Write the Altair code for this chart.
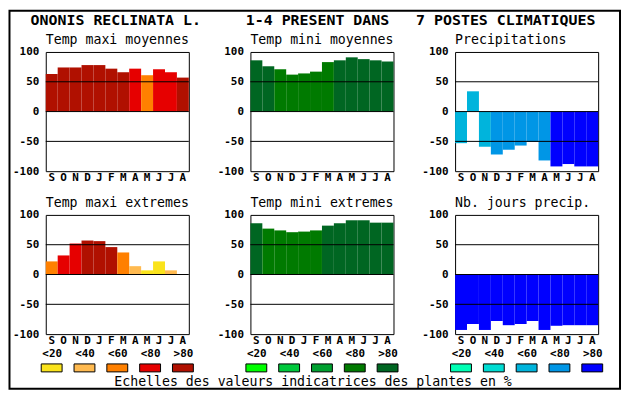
import altair as alt
import pandas as pd

MONO = "DejaVu Sans Mono"

MONTHS = ["S", "O", "N", "D", "J", "F", "M", "A", "M", "J", "J", "A"]
CLASSES = ["<20", "<40", "<60", "<80", ">80"]
Y_TICKS = [-100, -50, 0, 50, 100]
GRID_LINES = [-50, 0, 50]

TITLE_PARTS = ["ONONIS RECLINATA L.", "1-4 PRESENT DANS", "7 POSTES CLIMATIQUES"]
FOOTER = "Echelles des valeurs indicatrices des plantes en %"

REDS = ["#FAE31C", "#FFBA50", "#FF8000", "#E60000", "#B01000"]
GREENS = ["#00FF00", "#00C83C", "#00A030", "#007A00", "#006622"]
BLUES = ["#00FFB4", "#00DCD2", "#00B4DC", "#0096E6", "#0000FF"]

TMAX_MOY_TITLE = "Temp maxi moyennes"
TMAX_MOY = [63, 74, 74, 78, 78, 72, 66, 72, 61, 71, 66, 57]
TMAX_MOY_CLS = [">80", ">80", ">80", ">80", ">80", ">80", ">80", "<80", "<60", "<80", "<80", ">80"]

TMIN_MOY_TITLE = "Temp mini moyennes"
TMIN_MOY = [86, 76, 71, 62, 64, 67, 83, 86, 91, 88, 86, 84]
TMIN_MOY_CLS = [">80", ">80", "<80", "<80", "<80", "<80", "<80", ">80", ">80", ">80", ">80", ">80"]

PREC_TITLE = "Precipitations"
PREC = [-53, 34, -59, -72, -64, -57, -51, -82, -92, -88, -92, -92]
PREC_CLS = ["<60", "<60", "<60", "<80", "<80", "<80", "<80", "<80", ">80", ">80", ">80", ">80"]

TMAX_EXT_TITLE = "Temp maxi extremes"
TMAX_EXT = [22, 32, 52, 57, 56, 46, 37, 14, 7, 22, 7, 0]
TMAX_EXT_CLS = ["<60", "<80", "<80", ">80", ">80", ">80", "<60", "<40", "<20", "<20", "<40", "<20"]

TMIN_EXT_TITLE = "Temp mini extremes"
TMIN_EXT = [86, 77, 74, 71, 72, 74, 82, 86, 91, 91, 87, 87]
TMIN_EXT_CLS = [">80", "<80", "<80", "<80", "<80", "<80", ">80", ">80", ">80", ">80", ">80", ">80"]

NBJ_TITLE = "Nb. jours precip."
NBJ = [-93, -83, -93, -78, -85, -83, -78, -93, -86, -85, -85, -85]
NBJ_CLS = [">80"] * 12

NBSP = "\u00a0"
MAIN_TITLE = TITLE_PARTS[0] + NBSP * 5 + TITLE_PARTS[1] + NBSP * 3 + TITLE_PARTS[2]

LABEL_EXPR = "[" + ",".join("'" + m + "'" for m in MONTHS) + "][datum.value]"

W, H = 144, 120


def panel(title, values, classes, palette):
    df = pd.DataFrame({"i": list(range(len(values))), "v": values, "c": classes})
    yscale = alt.Scale(domain=[-100, 100], nice=False)
    yaxis = alt.Axis(title=None, values=Y_TICKS, ticks=False, domain=False, grid=False,
                     labelExpr="datum.value + ''", labelFont=MONO, labelFontSize=11,
                     labelFontWeight="bold", labelColor="black", labelPadding=7)
    bars = alt.Chart(df).mark_bar().encode(
        x=alt.X("i:O", scale=alt.Scale(paddingInner=0, paddingOuter=0),
                axis=alt.Axis(title=None, labelExpr=LABEL_EXPR, labelAngle=0, ticks=False,
                              domain=False, labelFont=MONO, labelFontSize=11,
                              labelFontWeight="bold", labelColor="black",
                              labelBaseline="alphabetic", labelPadding=9, labelOverlap=False)),
        y=alt.Y("v:Q", scale=yscale, axis=yaxis),
        color=alt.Color("c:N", scale=alt.Scale(domain=CLASSES, range=palette), legend=None),
    )
    rules = alt.Chart(pd.DataFrame({"v": GRID_LINES})).mark_rule(
        color="black", strokeWidth=1).encode(y=alt.Y("v:Q", scale=yscale, axis=yaxis))
    return alt.layer(bars, rules).properties(
        width=W, height=H,
        title=alt.TitleParams(title, anchor="start", frame="group", font=MONO, fontSize=13.3,
                              fontWeight="normal", color="black", baseline="alphabetic",
                              offset=7, dy=18.5),
    )


def legend_cell(palette, extras=()):
    df = pd.DataFrame({"c": CLASSES, "k": ["a"] * len(CLASSES)})
    sw = alt.Chart(df).mark_rect(width=21, yOffset=-14, stroke="black", strokeWidth=1).encode(
        x=alt.X("c:N", sort=CLASSES, scale=alt.Scale(type="point", padding=0.18),
                axis=alt.Axis(orient="top", title=None, ticks=False, domain=False, labelAngle=0,
                              labelFont=MONO, labelFontSize=11, labelFontWeight="bold",
                              labelColor="black", labelBaseline="alphabetic", labelPadding=7,
                              offset=14)),
        y=alt.Y("k:N", axis=None, scale=alt.Scale(paddingInner=0, paddingOuter=0)),
        color=alt.Color("c:N", scale=alt.Scale(domain=CLASSES, range=palette), legend=None),
    )
    return alt.layer(sw, *extras).properties(
        width=W, height=8, view=alt.ViewBackground(stroke="transparent"))


one = pd.DataFrame({"t": [0]})
frame = alt.Chart(one).mark_rect(fill="transparent", stroke="black", strokeWidth=2).encode(
    x=alt.value(-36.5), x2=alt.value(578), y=alt.value(-369.5), y2=alt.value(11))
main_title = alt.Chart(one).mark_text(
    text=MAIN_TITLE, font=MONO, fontSize=15, fontWeight="bold", color="black",
    align="center", baseline="alphabetic").encode(x=alt.value(63), y=alt.value(-355.2))
footer = alt.Chart(one).mark_text(
    text=FOOTER, font=MONO, fontSize=13.3, color="black",
    align="center", baseline="alphabetic").encode(x=alt.value(63), y=alt.value(8))

p1 = panel(TMAX_MOY_TITLE, TMAX_MOY, TMAX_MOY_CLS, REDS)
p2 = panel(TMIN_MOY_TITLE, TMIN_MOY, TMIN_MOY_CLS, GREENS)
p3 = panel(PREC_TITLE, PREC, PREC_CLS, BLUES)
p4 = panel(TMAX_EXT_TITLE, TMAX_EXT, TMAX_EXT_CLS, REDS)
p5 = panel(TMIN_EXT_TITLE, TMIN_EXT, TMIN_EXT_CLS, GREENS)
p6 = panel(NBJ_TITLE, NBJ, NBJ_CLS, BLUES)
l1 = legend_cell(REDS, [frame])
l2 = legend_cell(GREENS, [main_title, footer])
l3 = legend_cell(BLUES)

chart = alt.concat(
    p1, p2, p3, p4, p5, p6, l1, l2, l3,
    columns=3, spacing=alt.RowColnumber(row=44, column=62), bounds="flush", align="each",
).resolve_scale(color="independent", x="independent", y="independent").properties(
    padding=0, background="white"
).configure_view(stroke="black", strokeWidth=1)

chart.save("out.html", embed_options={"renderer": "svg", "actions": False})
